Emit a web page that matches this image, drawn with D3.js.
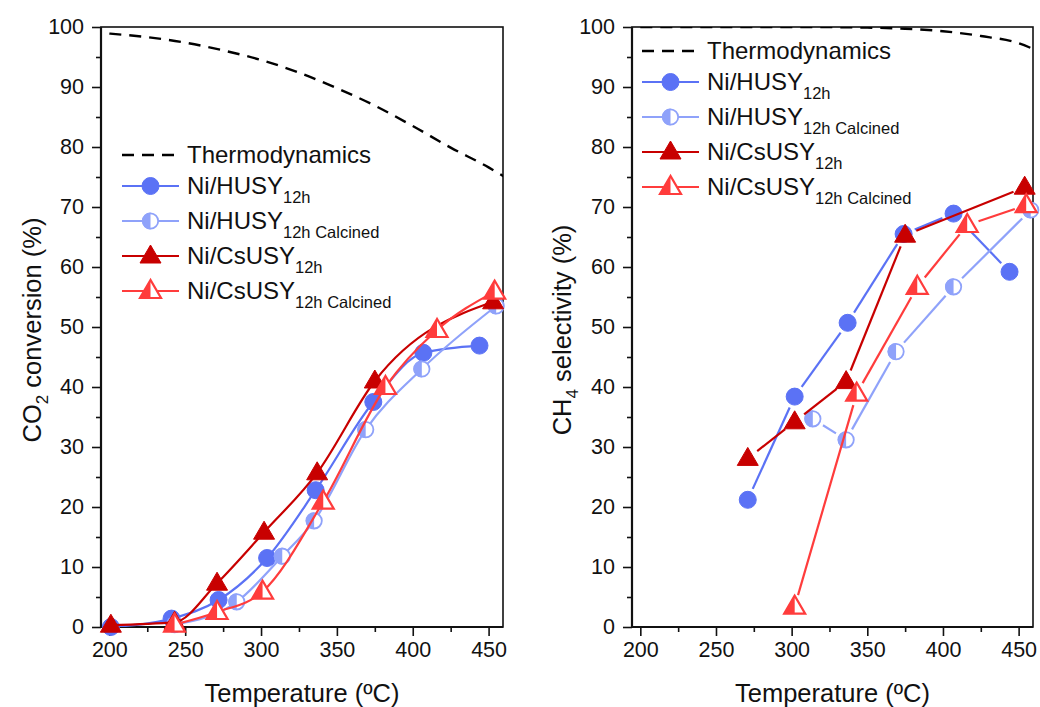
<!DOCTYPE html>
<html>
<head>
<meta charset="UTF-8">
<title>CO2 conversion and CH4 selectivity</title>
<script src="https://d3js.org/d3.v7.min.js"></script>
<style>
  body { margin: 0; background: #fff; }
  svg { display: block; font-family: Arial, "Liberation Sans", sans-serif; }
</style>
</head>
<body>
<svg id="chart" width="1040" height="707"></svg>
<script>
// ---- data ----
const tempTicks = [200, 250, 300, 350, 400, 450];
const tempMinor = [225, 275, 325, 375, 425];
const yTicks = [0, 10, 20, 30, 40, 50, 60, 70, 80, 90, 100];
const yMinor = [5, 15, 25, 35, 45, 55, 65, 75, 85, 95];

// CO2 conversion (%) - left panel
const thermoConvT = [200, 225, 250, 275, 300, 325, 350, 375, 400, 425, 450, 460];
const thermoConv  = [98.9, 98.3, 97.4, 96.1, 94.5, 92.4, 89.8, 86.9, 83.5, 79.9, 76.6, 75.1];
const husyConvT = [201, 241, 272, 304, 336, 374, 407, 444];
const husyConv  = [0, 1.4, 4.5, 11.5, 22.8, 37.5, 45.7, 46.9];
const husyCalConvT = [243, 284, 314, 335, 369, 406, 455];
const husyCalConv  = [0.4, 4.2, 11.8, 17.7, 32.9, 43.0, 53.5];
const csConvT = [201, 243, 271, 302, 337, 375, 453];
const csConv  = [0.3, 0.8, 7.3, 15.8, 25.7, 41.0, 54.2];
const csCalConvT = [243, 271, 301, 341, 382, 416, 454];
const csCalConv  = [0.4, 2.5, 5.9, 20.9, 40.0, 49.5, 55.9];

// CH4 selectivity (%) - right panel
const thermoSelT = [200, 250, 300, 350, 375, 400, 425, 450, 460];
const thermoSel  = [100, 100, 100, 99.9, 99.7, 99.3, 98.5, 97.3, 96.3];
const husySelT = [271, 302, 337, 374, 407, 444];
const husySel  = [21.2, 38.4, 50.7, 65.5, 68.9, 59.2];
const husyCalSelT = [314, 336, 369, 407, 458];
const husyCalSel  = [34.7, 31.2, 45.9, 56.7, 69.5];
const csSelT = [271, 302, 336, 375, 454];
const csSel  = [28.1, 34.2, 40.9, 65.3, 73.3];
const csCalSelT = [302, 343, 383, 416, 455];
const csCalSel  = [3.4, 38.9, 56.7, 67.0, 70.3];

const seriesNames = ["Ni/HUSY", "Ni/HUSY", "Ni/CsUSY", "Ni/CsUSY"];
const seriesSubs = ["12h", "12h Calcined", "12h", "12h Calcined"];
const seriesShape = ["circle", "circle", "triangle", "triangle"];
const seriesHalf = [false, true, false, true];
const seriesColor = ["#5b72f5", "#8fa2fa", "#c80000", "#ff3c3c"];

const svg = d3.select("#chart");
const y = d3.scaleLinear().domain([0, 100]).range([627, 27]);

function zip(ts, vs) { return ts.map((t, i) => ({ t: t, v: vs[i] })); }

const panels = [
  {
    id: "left", x0: 101, x1: 503, smooth: true,
    ylabel: ["CO", "2", " conversion (%)"], ylabelX: 32,
    legendX: 122, legendY: 155,
    thermo: zip(thermoConvT, thermoConv),
    series: [zip(husyConvT, husyConv), zip(husyCalConvT, husyCalConv),
             zip(csConvT, csConv), zip(csCalConvT, csCalConv)]
  },
  {
    id: "right", x0: 632, x1: 1033, smooth: false,
    ylabel: ["CH", "4", " selectivity (%)"], ylabelX: 562,
    legendX: 642, legendY: 51,
    thermo: zip(thermoSelT, thermoSel),
    series: [zip(husySelT, husySel), zip(husyCalSelT, husyCalSel),
             zip(csSelT, csSel), zip(csCalSelT, csCalSel)]
  }
];

function drawMarker(g, shape, half, color, cx, cy) {
  if (shape === "circle") {
    const r = 8.5;
    if (!half) {
      g.append("circle").attr("cx", cx).attr("cy", cy).attr("r", r)
        .attr("fill", color).attr("stroke", color).attr("stroke-width", 1);
    } else {
      g.append("circle").attr("cx", cx).attr("cy", cy).attr("r", r - 0.8)
        .attr("fill", "#fff");
      g.append("path")
        .attr("d", `M${cx},${cy - r} A${r},${r} 0 0 0 ${cx},${cy + r} Z`)
        .attr("fill", color);
      g.append("circle").attr("cx", cx).attr("cy", cy).attr("r", r - 0.8)
        .attr("fill", "none").attr("stroke", color).attr("stroke-width", 1.8);
    }
  } else {
    const top = cy - 11, bot = cy + 7, hw = 10.5;
    const tri = `M${cx},${top} L${cx - hw},${bot} L${cx + hw},${bot} Z`;
    if (!half) {
      g.append("path").attr("d", tri).attr("fill", color)
        .attr("stroke", color).attr("stroke-width", 1).attr("stroke-linejoin", "round");
    } else {
      g.append("path").attr("d", tri).attr("fill", "#fff");
      g.append("path").attr("d", `M${cx},${top} L${cx - hw},${bot} L${cx},${bot} Z`)
        .attr("fill", color);
      g.append("path").attr("d", tri).attr("fill", "none")
        .attr("stroke", color).attr("stroke-width", 2.2).attr("stroke-linejoin", "miter");
    }
  }
}

panels.forEach(p => {
  const x = d3.scaleLinear().domain([194.5, 459.5]).range([p.x0, p.x1]);
  const g = svg.append("g");

  svg.append("clipPath").attr("id", "clip-" + p.id)
    .append("rect").attr("x", p.x0).attr("y", y(100)).attr("width", p.x1 - p.x0).attr("height", y(0) - y(100));

  // frame
  g.append("rect").attr("x", p.x0).attr("y", y(100))
    .attr("width", p.x1 - p.x0).attr("height", y(0) - y(100))
    .attr("fill", "none").attr("stroke", "#111").attr("stroke-width", 1.6);

  // axes
  const xa = g.append("g").attr("transform", `translate(0,${y(0)})`)
    .call(d3.axisBottom(x).tickValues(tempTicks).tickSize(9).tickSizeOuter(0).tickPadding(6));
  const xm = g.append("g").attr("transform", `translate(0,${y(0)})`)
    .call(d3.axisBottom(x).tickValues(tempMinor).tickSize(5).tickFormat(""));
  const ya = g.append("g").attr("transform", `translate(${p.x0},0)`)
    .call(d3.axisLeft(y).tickValues(yTicks).tickSize(9).tickSizeOuter(0).tickPadding(8));
  const ym = g.append("g").attr("transform", `translate(${p.x0},0)`)
    .call(d3.axisLeft(y).tickValues(yMinor).tickSize(5).tickFormat(""));
  [xa, xm, ya, ym].forEach(a => {
    a.select(".domain").remove();
    a.selectAll(".tick line").attr("stroke", "#111").attr("stroke-width", 1.6);
    a.selectAll("text").attr("font-size", 21.5).attr("fill", "#111")
      .attr("font-family", "Arial, 'Liberation Sans', sans-serif");
  });
  g.append("line").attr("x1", p.x0).attr("x2", p.x1).attr("y1", y(0)).attr("y2", y(0))
    .attr("stroke", "#111").attr("stroke-width", 2.2);
  g.append("line").attr("x1", p.x0).attr("x2", p.x0).attr("y1", y(0)).attr("y2", y(100))
    .attr("stroke", "#111").attr("stroke-width", 2.2);

  // axis titles
  g.append("text").attr("x", (p.x0 + p.x1) / 2).attr("y", 702)
    .attr("text-anchor", "middle").attr("font-size", 25.5).attr("fill", "#111")
    .text("Temperature (ºC)");
  const yl = g.append("text")
    .attr("transform", `translate(${p.ylabelX},${(y(0) + y(100)) / 2 + 3}) rotate(-90)`)
    .attr("text-anchor", "middle").attr("dy", "0.35em").attr("font-size", 25.5).attr("fill", "#111");
  yl.append("tspan").text(p.ylabel[0]);
  yl.append("tspan").attr("font-size", 17).attr("dy", 7).text(p.ylabel[1]);
  yl.append("tspan").attr("dy", -7).text(p.ylabel[2]);

  // thermodynamics
  g.append("path").datum(p.thermo)
    .attr("clip-path", `url(#clip-${p.id})`)
    .attr("d", d3.line().x(d => x(d.t)).y(d => y(d.v)).curve(d3.curveMonotoneX))
    .attr("fill", "none").attr("stroke", "#000").attr("stroke-width", 2.4)
    .attr("stroke-dasharray", "12,8");

  // series lines
  p.series.forEach((s, i) => {
    const color = seriesColor[i];
    if (p.smooth) {
      g.append("path").datum(s)
        .attr("clip-path", `url(#clip-${p.id})`)
        .attr("d", d3.line().x(d => x(d.t)).y(d => y(d.v)).curve(d3.curveMonotoneX))
        .attr("fill", "none").attr("stroke", color).attr("stroke-width", 2.2);
    } else {
      const gap = 12;
      for (let k = 0; k < s.length - 1; k++) {
        const ax = x(s[k].t), ay = y(s[k].v), bx = x(s[k + 1].t), by = y(s[k + 1].v);
        const len = Math.hypot(bx - ax, by - ay);
        if (len <= 2 * gap) continue;
        const ux = (bx - ax) / len, uy = (by - ay) / len;
        g.append("line")
          .attr("clip-path", `url(#clip-${p.id})`)
          .attr("x1", ax + ux * gap).attr("y1", ay + uy * gap)
          .attr("x2", bx - ux * gap).attr("y2", by - uy * gap)
          .attr("stroke", color).attr("stroke-width", 2.2);
      }
    }
    const mg = g.append("g");
    s.forEach(d => drawMarker(mg, seriesShape[i], seriesHalf[i], color, x(d.t), y(d.v)));
  });

  // legend
  const rowOffsets = [0, 31, 66, 101, 136];
  const lg = g.append("g");
  const lx = p.legendX, lw = 57;
  lg.append("line").attr("x1", lx).attr("x2", lx + lw)
    .attr("y1", p.legendY).attr("y2", p.legendY)
    .attr("stroke", "#000").attr("stroke-width", 2.4).attr("stroke-dasharray", "12,8");
  lg.append("text").attr("x", lx + lw + 8).attr("y", p.legendY).attr("dy", "0.35em")
    .attr("font-size", 24).attr("fill", "#111").text("Thermodynamics");
  seriesNames.forEach((name, i) => {
    const ry = p.legendY + rowOffsets[i + 1];
    lg.append("line").attr("x1", lx).attr("x2", lx + lw).attr("y1", ry).attr("y2", ry)
      .attr("stroke", seriesColor[i]).attr("stroke-width", 2.2);
    drawMarker(lg, seriesShape[i], seriesHalf[i], seriesColor[i], lx + lw / 2, ry);
    const t = lg.append("text").attr("x", lx + lw + 8).attr("y", ry).attr("dy", "0.35em")
      .attr("font-size", 24).attr("fill", "#111");
    t.append("tspan").text(name);
    t.append("tspan").attr("font-size", 16.5).attr("dy", 9).text(seriesSubs[i]);
  });
});
</script>
</body>
</html>
